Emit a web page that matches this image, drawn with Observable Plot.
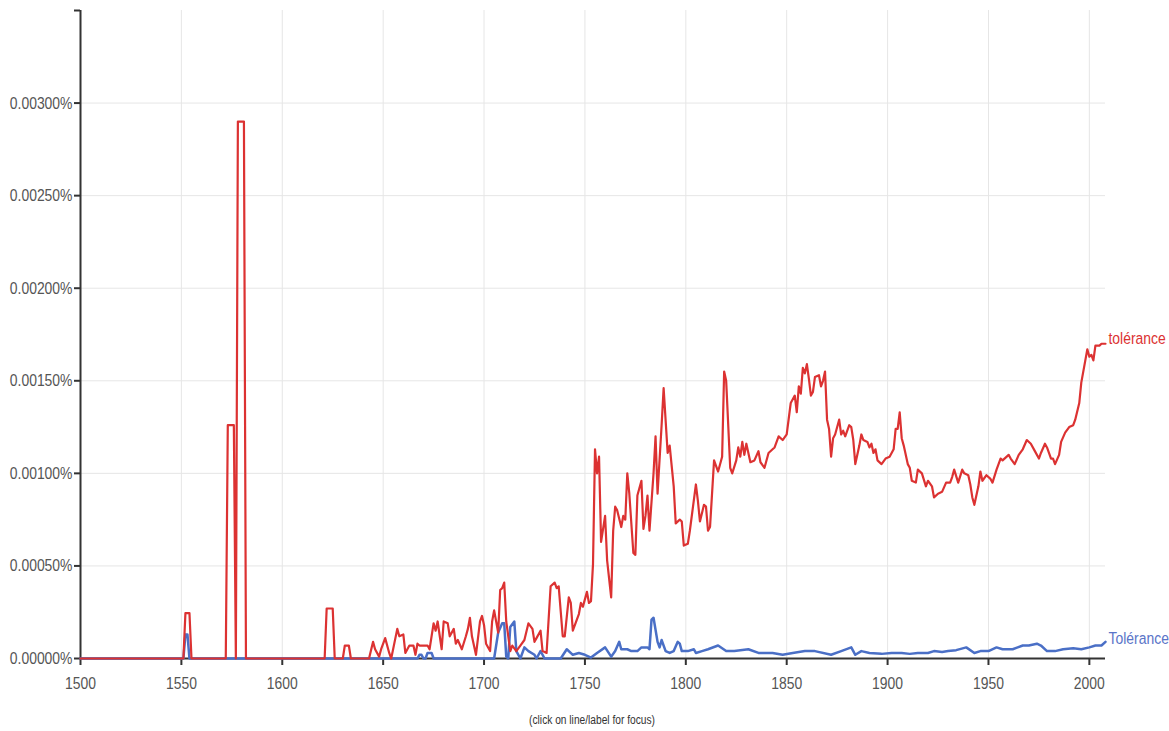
<!DOCTYPE html>
<html>
<head>
<meta charset="utf-8">
<script src="https://cdn.jsdelivr.net/npm/d3@7"></script>
<script src="https://cdn.jsdelivr.net/npm/@observablehq/plot@0.6"></script>
<style>
  body { margin: 0; background: #fff; }
  #chart svg { display: block; }
  #caption { margin-left: 80px; width: 1025px; text-align: center; font-family: "Liberation Sans", Arial, sans-serif; font-size: 12px; color: #333; padding-top: 13px; }
  #caption span { display: inline-block; transform: scaleX(0.85); }
</style>
</head>
<body>
<div id="chart"></div>
<div id="caption"><span>(click on line/label for focus)</span></div>
<script>
// Series: [year, percent]
const toleranceLower = [
[1500,0],[1551,0],[1552,0.000245],[1554,0.000245],[1555,0],[1572,0],[1573,0.00126],[1576,0.00126],[1577,0],[1578,0.0029],[1581,0.0029],[1582,0],
[1621,0],[1622,0.00027],[1625,0.00027],[1626,0],[1630,0],[1631,0.00007],[1633,0.00007],[1634,0],[1643,0],[1645,0.00009],[1646,0.00005],[1648,0.00001],
[1649,0.00005],[1651,0.00011],[1653,0.00003],[1654,0],[1657,0.00016],[1658,0.00012],[1660,0.00013],[1661,0.00003],[1663,0.00007],[1665,0.00007],
[1666,0.00002],[1667,0.00008],[1668,0.00007],[1672,0.00007],[1673,0.00005],[1675,0.00019],[1676,0.00015],[1677,0.0002],[1679,0.00005],[1680,0.0002],
[1682,0.00019],[1683,0.00012],[1685,0.00016],[1686,0.00008],[1687,0.0001],[1689,0.00005],[1691,0.00012],[1692,0.00016],[1693,0.00022],[1694,0.00012],
[1696,0.00002],[1698,0.0002],[1699,0.00023],[1700,0.00018],[1701,0.00008],[1703,0.00004],[1704,0.0002],[1705,0.00026],[1707,0.00014],[1708,0.00037],
[1709,0.00038],[1710,0.00041],[1711,0.0002],[1713,0.00004],[1714,0.00007],[1716,0.00004],[1718,0.00007],[1720,0.0001],[1722,0.00019],[1724,0.00016],
[1725,0.00009],[1726,0.00011],[1728,0.00015],[1729,0.00004],[1731,0.00003],[1733,0.00039],[1735,0.00041],[1736,0.00038],[1737,0.00039],[1739,0.00012],
[1740,0.00012],[1742,0.00033],[1743,0.0003],[1744,0.00015],[1747,0.00024],[1748,0.0003],[1749,0.00028],[1751,0.00036],[1752,0.0003],[1753,0.00031],
[1754,0.00051],[1755,0.00113],[1756,0.001],[1757,0.00109],[1758,0.00063],[1760,0.00077],[1761,0.00053],[1763,0.00033],[1764,0.00069],[1765,0.00082],
[1766,0.0008],[1768,0.00071],[1769,0.00077],[1770,0.00075],[1771,0.001],[1772,0.00089],[1774,0.00057],[1775,0.00056],[1776,0.00088],[1778,0.00096],
[1779,0.0007],[1780,0.00077],[1781,0.00088],[1782,0.00069],[1784,0.001],[1785,0.0012],[1786,0.00089],[1788,0.00126],[1789,0.00146],[1791,0.00111],
[1792,0.00115],[1794,0.00093],[1795,0.00073],[1797,0.00075],[1798,0.00074],[1799,0.00061],[1801,0.00062],[1802,0.00069],[1805,0.00094],[1806,0.00085],
[1807,0.00074],[1809,0.00083],[1810,0.00082],[1811,0.00069],[1812,0.00071],[1814,0.00107],[1816,0.00101],[1818,0.00109],[1819,0.00155],[1820,0.0015],
[1822,0.00103],[1823,0.001],[1825,0.00107],[1826,0.00114],[1827,0.00109],[1828,0.00117],[1829,0.0011],[1830,0.00116],[1832,0.00106],[1834,0.00107],
[1836,0.00112],[1837,0.00106],[1839,0.00103],[1841,0.00111],[1843,0.00113],[1844,0.00114],[1846,0.0012],[1848,0.00118],[1850,0.00121],[1852,0.00138],
[1854,0.00142],[1855,0.00133],[1856,0.00147],[1857,0.00143],[1858,0.00157],[1859,0.00154],[1860,0.00159],[1861,0.00151],[1862,0.00142],[1863,0.00144],
[1864,0.00152],[1866,0.00153],[1867,0.00147],[1868,0.0015],[1869,0.00155],[1870,0.00129],[1871,0.00124],[1872,0.00109],[1873,0.00119],[1874,0.00121],
[1876,0.00129],[1877,0.00121],[1878,0.00123],[1879,0.0012],[1881,0.00126],[1882,0.00125],[1883,0.00118],[1884,0.00105],[1886,0.00115],[1887,0.00121],
[1888,0.00118],[1890,0.00117],[1891,0.00114],[1892,0.00116],[1893,0.00111],[1894,0.00113],[1895,0.00107],[1897,0.00105],[1899,0.00108],[1901,0.00109],
[1903,0.00113],[1904,0.00124],[1905,0.00124],[1906,0.00133],[1907,0.00119],[1908,0.00115],[1910,0.00105],[1911,0.00103],[1912,0.00096],[1914,0.00095],
[1915,0.00102],[1917,0.001],[1919,0.00093],[1920,0.00096],[1922,0.00093],[1923,0.00087],[1925,0.00089],[1927,0.0009],[1929,0.00095],[1931,0.00095],
[1932,0.00098],[1933,0.00102],[1935,0.00095],[1937,0.00102],[1938,0.001],[1940,0.00099],[1941,0.00094],[1942,0.00087],[1943,0.00083],[1945,0.00093],
[1946,0.00101],[1947,0.00096],[1949,0.00099],[1951,0.00097],[1952,0.00095],[1954,0.00102],[1956,0.00108],[1957,0.00107],[1960,0.0011],[1961,0.00108],
[1963,0.00105],[1965,0.0011],[1967,0.00113],[1969,0.00118],[1971,0.00116],[1973,0.00112],[1975,0.00108],[1976,0.00111],[1978,0.00116],[1979,0.00114],
[1981,0.00108],[1982,0.00108],[1983,0.00105],[1985,0.0011],[1986,0.00117],[1988,0.00122],[1990,0.00125],[1992,0.00126],[1993,0.00129],[1995,0.00138],
[1996,0.00149],[1998,0.00161],[1999,0.00167],[2000,0.00163],[2001,0.00164],[2002,0.00161],[2003,0.00169],[2005,0.00169],[2006,0.0017],[2008,0.0017]
];
const toleranceUpper = [
[1500,0],[1551,0],[1552,0.00013],[1553,0.00013],[1554,0],[1667,0],[1668,0.00002],[1669,0.00002],[1670,0],[1671,0],[1672,0.00003],[1674,0.00003],[1675,0],
[1705,0],[1707,0.00014],[1709,0.00019],[1710,0.00019],[1711,0.00001],[1712,0],[1713,0.00017],[1715,0.0002],[1716,0.00004],[1718,0],[1720,0.00006],
[1722,0.00004],[1725,0.00002],[1726,0],[1728,0.00004],[1730,0],[1738,0],[1741,0.00005],[1744,0.00002],[1747,0.00003],[1750,0.00002],[1753,0.000005],
[1756,0.00003],[1760,0.00006],[1763,0.00001],[1765,0.00004],[1767,0.00009],[1768,0.00005],[1771,0.00005],[1773,0.00004],[1776,0.00004],[1778,0.00006],
[1781,0.00006],[1782,0.00005],[1783,0.00021],[1784,0.00022],[1786,0.00009],[1787,0.00006],[1788,0.0001],[1790,0.00004],[1792,0.00003],[1794,0.00004],
[1796,0.00009],[1797,0.00008],[1798,0.00004],[1801,0.00004],[1804,0.00005],[1805,0.00003],[1808,0.00004],[1811,0.00005],[1816,0.00007],[1820,0.00004],
[1824,0.00004],[1831,0.00005],[1836,0.00003],[1843,0.00003],[1848,0.00002],[1853,0.00003],[1859,0.00004],[1864,0.00004],[1872,0.00002],[1877,0.00004],
[1882,0.00006],[1884,0.00002],[1887,0.00004],[1891,0.00003],[1897,0.000025],[1902,0.00003],[1907,0.00003],[1911,0.000025],[1915,0.00003],[1920,0.00003],
[1923,0.00004],[1927,0.000035],[1930,0.00004],[1934,0.000045],[1939,0.00006],[1943,0.00003],[1946,0.00004],[1950,0.00004],[1954,0.00006],[1957,0.00005],
[1962,0.00005],[1967,0.00007],[1970,0.00007],[1974,0.00008],[1976,0.00007],[1979,0.00004],[1983,0.00004],[1987,0.00005],[1992,0.000055],[1996,0.00005],
[2000,0.00006],[2003,0.00007],[2006,0.00007],[2008,0.00009]
];
const seriesLabels = ["tolérance", "Tolérance"];
const xTicks = [1500, 1550, 1600, 1650, 1700, 1750, 1800, 1850, 1900, 1950, 2000];
const yTicks = [0, 0.0005, 0.001, 0.0015, 0.002, 0.0025, 0.003];
const yAxisTicks = [...yTicks, 0.0035];

const RED = "#dc3232";
const BLUE = "#4a6fc6";
const font = "'Liberation Sans', Arial, sans-serif";

const lastRed = toleranceLower[toleranceLower.length - 1];
const lastBlue = toleranceUpper[toleranceUpper.length - 1];

const chart = Plot.plot({
  width: 1169,
  height: 700,
  marginLeft: 80,
  marginRight: 64,
  marginTop: 10,
  marginBottom: 42,
  x: { domain: [1500, 2008] },
  y: { domain: [0, 0.0035] },
  style: { fontFamily: font, fontSize: "17px", color: "#555", background: "#fff", overflow: "visible" },
  marks: [
    Plot.gridX(xTicks, { stroke: "#e6e6e6", strokeOpacity: 1, strokeWidth: 1 }),
    Plot.gridY(yTicks, { stroke: "#e6e6e6", strokeOpacity: 1, strokeWidth: 1 }),
    Plot.ruleX([1500], { stroke: "#333", strokeWidth: 2 }),
    Plot.ruleY([0], { stroke: "#333", strokeWidth: 2 }),
    Plot.axisX(xTicks, { tickFormat: d => String(d), tickSize: 7, tickPadding: 11, stroke: "#333", strokeWidth: 2, fill: "#555", fontSize: 17, label: null }),
    Plot.axisY(yAxisTicks, { tickFormat: d => d > 0.0031 ? "" : d.toFixed(5) + "%", tickSize: 6, tickPadding: 2, stroke: "#333", strokeWidth: 2, fill: "#555", fontSize: 17, label: null }),
    Plot.line(toleranceUpper, { x: d => d[0], y: d => d[1], stroke: BLUE, strokeWidth: 2.5 }),
    Plot.line(toleranceLower, { x: d => d[0], y: d => d[1], stroke: RED, strokeWidth: 2.2 }),
    Plot.text([lastRed], { x: d => d[0], y: d => d[1], text: () => seriesLabels[0], textAnchor: "start", dx: 3, dy: -5, fill: RED, fontSize: 17 }),
    Plot.text([lastBlue], { x: d => d[0], y: d => d[1], text: () => seriesLabels[1], textAnchor: "start", dx: 3, dy: -3, fill: "#5a74c8", fontSize: 17 })
  ]
});
// condense texts horizontally around their anchor points (reference uses a narrow face)
d3.select(chart).selectAll("text").each(function () {
  const t = this.getAttribute("transform");
  if (t) this.setAttribute("transform", t + " scale(0.82,1)");
});
document.getElementById("chart").appendChild(chart);
</script>
</body>
</html>
